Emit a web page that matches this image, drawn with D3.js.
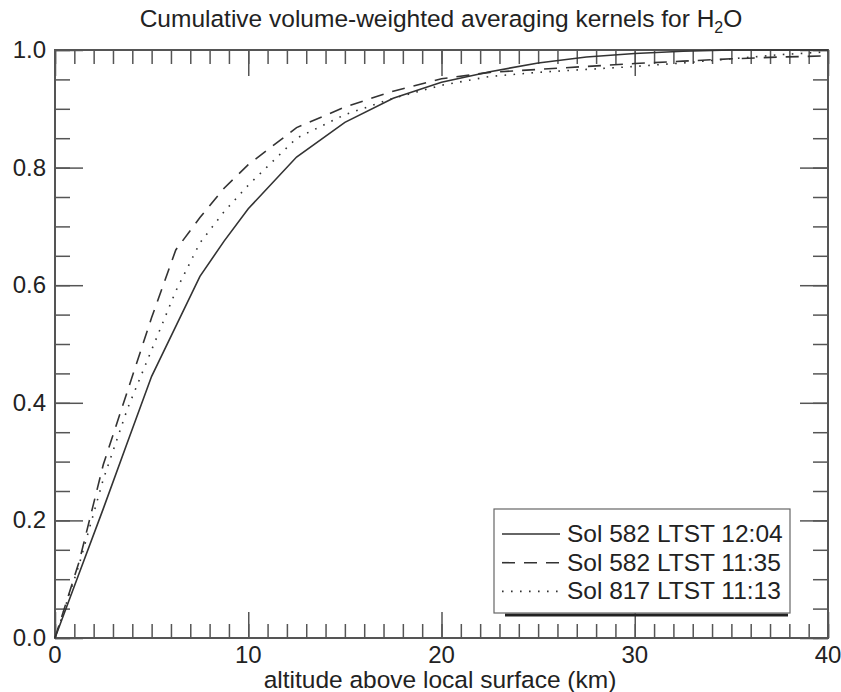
<!DOCTYPE html>
<html lang="en">
<head>
    <meta charset="UTF-8">
    <title>Cumulative volume-weighted averaging kernels</title>
    <style>
        body {
            margin: 0;
            padding: 0;
            background-color: #fff;
        }
        svg text {
            font-family: "Liberation Sans", Arial, sans-serif;
            fill: #222;
        }
    </style>
    <script src="https://d3js.org/d3.v7.min.js"></script>
</head>
<body>
    <svg id="chart" width="841" height="692"></svg>

    <script>
        // altitude grid (km) shared by all three kernels
        const altitude = [0, 1.25, 2.5, 3.75, 5, 6.25, 7.5, 8.75, 10, 12.5, 15, 17.5, 20,
                          22.5, 25, 27.5, 30, 32.5, 35, 37.5, 40];

        const sol582_1204 = [0, 0.11, 0.22, 0.333, 0.445, 0.53, 0.615, 0.675, 0.73, 0.818, 0.877, 0.918, 0.945,
                             0.963, 0.978, 0.988, 0.994, 0.998, 1.0, 1.0, 1.0];
        const sol582_1135 = [0, 0.13, 0.295, 0.42, 0.545, 0.66, 0.715, 0.765, 0.805, 0.868, 0.903, 0.93, 0.951,
                             0.962, 0.967, 0.972, 0.977, 0.981, 0.985, 0.988, 0.99];
        const sol817_1113 = [0, 0.125, 0.27, 0.39, 0.49, 0.59, 0.672, 0.725, 0.77, 0.85, 0.89, 0.918, 0.94,
                             0.955, 0.962, 0.967, 0.972, 0.978, 0.985, 0.992, 0.997];

        const seriesNames = ["Sol 582 LTST 12:04", "Sol 582 LTST 11:35", "Sol 817 LTST 11:13"];
        const seriesValues = [sol582_1204, sol582_1135, sol817_1113];
        const dashes = [null, "13,9", "1.6,7.4"];

        const xTicks = [0, 10, 20, 30, 40];
        const yTicks = [0, 0.2, 0.4, 0.6, 0.8, 1.0];

        const margin = { left: 55, right: 13, top: 50, bottom: 54 };
        const width = 841, height = 692;
        const svg = d3.select("#chart");

        const x = d3.scaleLinear().domain([0, 40]).range([margin.left, width - margin.right]);
        const y = d3.scaleLinear().domain([0, 1]).range([height - margin.bottom, margin.top]);

        // title
        const title = svg.append("text")
            .attr("x", 441).attr("y", 27)
            .attr("text-anchor", "middle")
            .style("font-size", "24.5px");
        title.append("tspan").text("Cumulative volume-weighted averaging kernels for H");
        title.append("tspan").attr("dy", 6).style("font-size", "16px").text("2");
        title.append("tspan").attr("dy", -6).text("O");

        // ticks, IDL style: minor + major on all four sides, pointing inward
        const axisColor = "#555";
        const minorX = d3.range(0, 41, 1);
        const minorY = d3.range(0, 1.0001, 0.05);

        function xAxis(orient, yPos, major) {
            const ax = (orient === "bottom" ? d3.axisTop(x) : d3.axisBottom(x))
                .tickValues(major ? xTicks : minorX)
                .tickSize(major ? 26 : 14)
                .tickFormat("");
            const g = svg.append("g").attr("transform", `translate(0,${yPos})`).call(ax);
            g.select(".domain").remove();
            g.selectAll("line").attr("stroke", axisColor).attr("stroke-width", 1.5);
        }
        function yAxis(orient, xPos, major) {
            const ax = (orient === "left" ? d3.axisRight(y) : d3.axisLeft(y))
                .tickValues(major ? yTicks : minorY)
                .tickSize(major ? 28 : 15)
                .tickFormat("");
            const g = svg.append("g").attr("transform", `translate(${xPos},0)`).call(ax);
            g.select(".domain").remove();
            g.selectAll("line").attr("stroke", axisColor).attr("stroke-width", 1.5);
        }
        xAxis("bottom", y(0), false); xAxis("bottom", y(0), true);
        xAxis("top", y(1), false); xAxis("top", y(1), true);
        yAxis("left", x(0), false); yAxis("left", x(0), true);
        yAxis("right", x(40), false); yAxis("right", x(40), true);

        // frame
        svg.append("rect")
            .attr("x", x(0)).attr("y", y(1))
            .attr("width", x(40) - x(0)).attr("height", y(0) - y(1))
            .attr("fill", "none").attr("stroke", axisColor).attr("stroke-width", 2);

        // tick labels
        svg.append("g").selectAll("text").data(xTicks).join("text")
            .attr("x", d => x(d)).attr("y", 663)
            .attr("text-anchor", "middle")
            .style("font-size", "24px")
            .text(d => d);
        svg.append("g").selectAll("text").data(yTicks).join("text")
            .attr("x", 46).attr("y", d => y(d) + 8)
            .attr("text-anchor", "end")
            .style("font-size", "24px")
            .text(d => d.toFixed(1));

        svg.append("text")
            .attr("x", 440).attr("y", 688)
            .attr("text-anchor", "middle")
            .style("font-size", "24.5px")
            .text("altitude above local surface (km)");

        // curves
        const line = d3.line().x((d, i) => x(altitude[i])).y(d => y(d));
        svg.append("g").selectAll("path").data(seriesValues).join("path")
            .attr("d", d => line(d))
            .attr("fill", "none")
            .attr("stroke", "#333")
            .attr("stroke-width", 1.6)
            .attr("stroke-dasharray", (d, i) => dashes[i]);

        // legend
        const lg = svg.append("g");
        lg.append("line")
            .attr("x1", 505).attr("x2", 788).attr("y1", 615).attr("y2", 615)
            .attr("stroke", "#222").attr("stroke-width", 3);
        lg.append("rect")
            .attr("x", 494).attr("y", 509).attr("width", 296).attr("height", 104)
            .attr("fill", "#fff").attr("stroke", "#666").attr("stroke-width", 1.2);
        seriesNames.forEach((name, i) => {
            const cy = 534 + i * 28.7;
            lg.append("line")
                .attr("x1", 502).attr("x2", 560).attr("y1", cy).attr("y2", cy)
                .attr("stroke", "#333").attr("stroke-width", 1.6)
                .attr("stroke-dasharray", dashes[i]);
            lg.append("text")
                .attr("x", 567).attr("y", cy + 8)
                .style("font-size", "24.5px")
                .text(name);
        });
    </script>
</body>
</html>
